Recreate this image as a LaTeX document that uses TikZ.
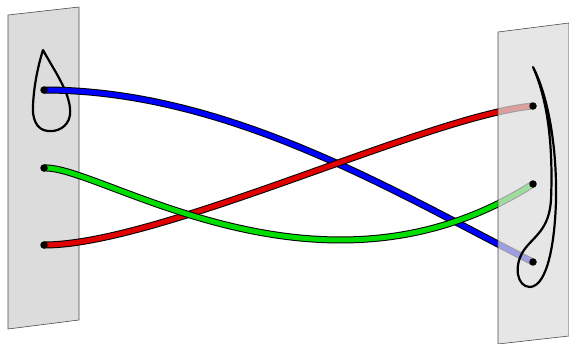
\documentclass[tikz,border=0pt]{standalone}
\usetikzlibrary{positioning}
\definecolor{planegray}{HTML}{DCDCDC}
\definecolor{tubeblue}{HTML}{0000FF}
\definecolor{tubered}{HTML}{E00000}
\definecolor{tubegreen}{HTML}{00DD00}

\begin{document}
\begin{tikzpicture}[
	x=1pt, y=-1pt,
	plane/.style={draw=black!70, line width=0.6pt, fill=planegray},
	backplane/.style={plane, fill opacity=0.72},
	dot/.style={circle, fill=black, inner sep=0pt, minimum size=7.5pt},
	tubeline/.style={line width=7pt, black},
	loopline/.style={line width=2.2pt, black, line cap=round, line join=round}
	]
	
	\useasboundingbox (0,0) rectangle (569,343);
	
	% Left plane and its loop
	\draw[plane] (8,15) -- (79,7) -- (79,320) -- (8,329) -- cycle;
	\draw[loopline] (43,50) .. controls (55,72) and (72,95) .. (70,115)
		.. controls (68,128) and (56,132) .. (48,131)
		.. controls (36,130) and (32,118) .. (33,105)
		.. controls (34,85) and (38,66) .. (43,50);
	
	% End points
	\coordinate (lb) at (44,90);
	\coordinate (lg) at (44,168);
	\coordinate (lr) at (44,245);
	\coordinate (rr) at (533,106);
	\coordinate (rg) at (533,184);
	\coordinate (rb) at (533,262);
	
	% --- Tubes ---
	\foreach \col/\a/\b/\c/\d in {
		tubeblue/lb/{(230,90)}/{(400,195)}/rb,
		tubered/lr/{(160,245)}/{(430,115)}/rr,
		tubegreen/lg/{(100,165)}/{(320,320)}/rg} {
		\draw[tubeline] (\a) .. controls \b and \c .. (\d);
		\draw[line width=5pt, \col] (\a) .. controls \b and \c .. (\d);
	}
	
	% Right plane drawn over the tube ends
	\draw[backplane] (498,32) -- (569,23) -- (569,336) -- (498,344) -- cycle;
	\draw[loopline] (533,67) .. controls (549,98) and (557,150) .. (556,200)
		.. controls (555,240) and (548,286) .. (530,287)
		.. controls (517,287) and (513,266) .. (524,250)
		.. controls (534,236) and (549,230) .. (551,200)
		.. controls (553,150) and (549,103) .. (533,67);
	
	% Dots on both planes
	\foreach \p in {lb, lg, lr, rr, rg, rb}
		\node[dot] (dot-\p) at (\p) {};
\end{tikzpicture}
\end{document}
